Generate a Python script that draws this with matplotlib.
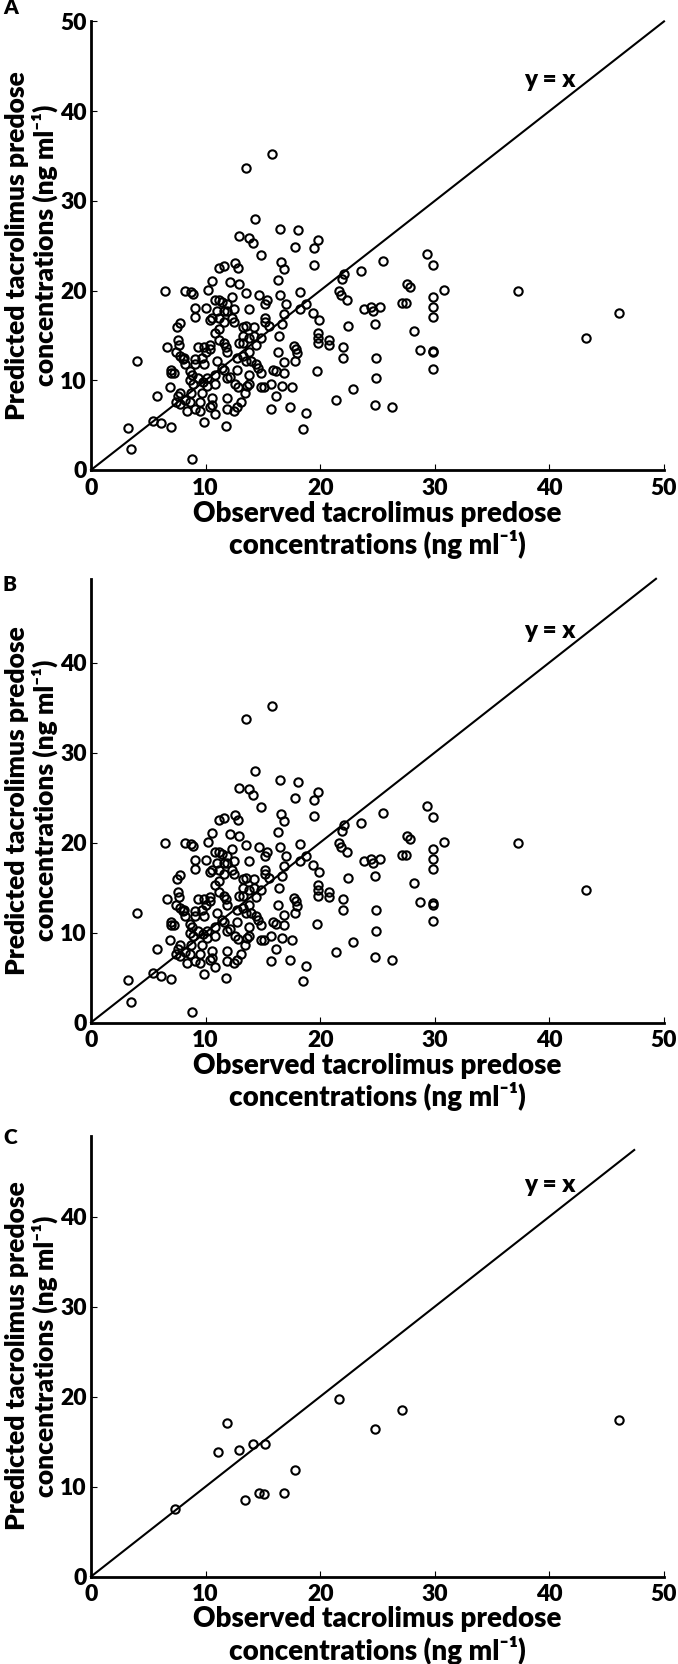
import matplotlib
matplotlib.use('Agg')
import matplotlib.pyplot as plt

plt.rcParams['font.family'] = ['Lato', 'DejaVu Sans']
plt.rcParams['font.weight'] = 'heavy'

# observed vs predicted tacrolimus predose concentrations (ng/ml), panel A
obs_a = [3.2, 3.5, 4.0, 5.4, 5.8, 6.1, 6.5, 6.6, 7.0, 6.9, 7.0, 7.0, 7.5, 7.8, 7.6, 7.7,
         7.4, 7.8, 8.2, 8.7, 8.9, 8.4, 8.8, 8.1, 8.6, 9.1, 9.1, 9.3, 9.1, 9.3, 9.5, 9.9,
         10.0, 10.2, 10.6, 10.8, 11.2, 11.6, 12.1, 12.3, 12.5, 12.9, 13.5, 13.8, 14.1, 14.3,
         14.8, 12.6, 12.8, 12.9, 13.5, 13.8, 14.7, 15.2, 15.4, 15.8, 16.5, 16.6, 16.8, 16.3,
         16.5, 17.0, 16.8, 16.7, 16.4, 16.3, 15.9, 16.1, 16.8, 16.8, 15.7, 16.1, 15.7, 16.7,
         17.5, 17.4, 17.8, 18.1, 18.2, 18.2, 17.7, 17.9, 18.0, 17.8, 18.5, 18.8, 18.8, 19.4,
         19.5, 19.8, 19.5, 19.9, 19.8, 19.8, 19.8, 19.7, 20.8, 20.8, 21.4, 21.6, 21.8, 21.9,
         22.1, 22.3, 22.4, 22.0, 22.0, 22.9, 23.6, 23.8, 24.4, 24.6, 24.8, 24.9, 24.9, 24.8,
         25.2, 25.5, 26.3, 27.1, 27.5, 27.6, 27.8, 28.2, 28.7, 29.3, 29.8, 29.8, 29.8, 29.8,
         29.8, 29.8, 29.8, 30.8, 37.3, 43.2,
         10.8, 10.6, 10.4, 10.6, 11.8, 11.9, 11.9, 12.5, 12.7, 13.1, 13.4, 12.8, 12.6, 13.8,
         13.6, 14.8, 15.1, 12.7, 11.9, 12.1, 11.6, 11.4, 11.0, 10.8, 10.8, 10.1, 9.7, 9.8,
         10.1, 9.9, 9.7, 10.0, 9.9, 10.4, 10.4, 10.8, 11.2, 10.4, 10.6, 11.2, 11.6, 11.0,
         11.6, 11.2, 11.4, 11.9, 11.9, 12.3, 12.5, 11.9, 11.8, 11.6, 11.2, 12.9, 13.3, 13.3,
         13.5, 13.3, 13.8, 14.2, 14.4, 13.8, 13.3, 13.5, 14.0, 14.4, 14.6, 14.8, 13.8, 12.7,
         15.2, 15.2, 15.5, 14.8, 14.2, 8.8, 8.6, 8.2, 7.8, 8.0, 7.4, 7.2, 7.8, 7.6, 8.2, 8.6,
         8.7, 8.9, 9.1, 9.5, 9.1,
         46.1]
pred_a = [4.7, 2.3, 12.2, 5.5, 8.2, 5.2, 19.9, 13.7, 4.8, 9.2, 11.2, 10.8, 15.9, 16.4, 14.5, 13.9,
          7.6, 7.4, 19.9, 19.8, 19.6, 6.6, 1.2, 12.5, 11.0, 18.1, 17.1, 13.7, 11.8, 10.2, 7.6, 5.4,
          18.1, 20.1, 21.1, 18.9, 22.5, 22.7, 20.9, 19.3, 17.9, 26.1, 33.7, 25.9, 25.3, 28.0,
          24.0, 23.1, 22.5, 20.7, 19.7, 17.9, 19.5, 18.5, 18.9, 35.2, 26.9, 23.2, 22.4, 21.2,
          19.5, 18.5, 17.4, 16.3, 14.9, 13.1, 11.2, 11.0, 12.0, 10.8, 9.6, 8.2, 6.8, 9.4,
          9.2, 7.0, 24.9, 26.7, 19.8, 17.9, 13.8, 13.5, 13.0, 12.2, 4.6, 6.3, 18.5, 17.5,
          24.7, 25.6, 22.9, 16.7, 15.3, 14.7, 14.1, 11.0, 14.5, 13.9, 7.8, 19.9, 19.5, 21.3,
          21.9, 18.9, 16.1, 13.7, 12.5, 9.0, 22.2, 17.9, 18.2, 17.7, 16.3, 12.5, 10.2, 7.3,
          18.2, 23.3, 7.0, 18.6, 18.6, 20.7, 20.4, 15.5, 13.4, 24.1, 22.8, 19.3, 18.2, 17.1,
          13.3, 13.1, 11.3, 20.1, 19.9, 14.7,
          6.2, 7.2, 7.0, 8.0, 4.9, 8.0, 6.8, 6.6, 7.0, 7.6, 8.6, 9.3, 9.6, 9.6,
          9.4, 9.2, 9.2, 11.2, 10.2, 10.4, 11.2, 11.4, 12.2, 10.6, 9.6, 9.4, 8.6, 9.8,
          10.2, 11.8, 12.5, 13.1, 13.7, 13.9, 13.5, 15.3, 15.7, 16.7, 16.9, 16.9, 16.5, 17.7,
          17.7, 18.9, 18.7, 17.7, 18.5, 16.9, 16.5, 13.1, 13.7, 14.1, 14.5, 14.1, 14.1, 15.9,
          16.1, 14.9, 14.7, 14.9, 13.9, 13.1, 12.7, 12.2, 12.2, 11.8, 11.4, 10.8, 10.6, 12.5,
          16.9, 16.5, 16.1, 14.7, 15.9, 10.6, 10.0, 11.8, 12.7, 12.4, 13.1, 10.8, 8.6, 8.2, 7.8, 7.6,
          8.6, 9.6, 6.8, 6.6, 12.4,
          17.5]

# panel B: same patients without the 46 ng/ml outlier
obs_b = obs_a[:-1]
pred_b = pred_a[:-1]

# panel C
obs_c = [7.3, 11.1, 11.9, 12.9, 13.4, 14.1, 14.7, 15.1, 15.2, 16.8, 17.8, 21.6, 24.8, 27.1, 46.1]
pred_c = [7.5, 13.9, 17.1, 14.1, 8.5, 14.7, 9.3, 9.2, 14.7, 9.3, 11.9, 19.7, 16.4, 18.5, 17.4]

letters = ['A', 'B', 'C']
y_ticks = [[0, 10, 20, 30, 40, 50], [0, 10, 20, 30, 40], [0, 10, 20, 30, 40]]
y_tops = [50, 49.3, 49]
line_ends = [50, 49.3, 47.4]

W, H = 678, 1664
fig = plt.figure(figsize=(W / 100, H / 100), dpi=100)

# pixel positions of the axes: left, right, y of the origin, y of the axis top
boxes = [(91, 664, 470, 21.4), (91, 664, 1022.5, 578.8), (91, 664, 1576.6, 1135.6)]
letter_tops = [-2, 575, 1128]

panels = [(obs_a, pred_a), (obs_b, pred_b), (obs_c, pred_c)]

for i, (obs, pred) in enumerate(panels):
    l, r, b, t = boxes[i]
    ax = fig.add_axes([l / W, 1 - b / H, (r - l) / W, (b - t) / H])

    ax.plot(obs, pred, 'o', ms=6, mfc='none', mec='black', mew=1.5, clip_on=False)
    ax.plot([0, line_ends[i]], [0, line_ends[i]], '-', color='black', lw=1.5, clip_on=False)

    ax.set_xlim(0, 50)
    ax.set_ylim(0, y_tops[i])
    ax.set_xticks([0, 10, 20, 30, 40, 50])
    ax.set_yticks(y_ticks[i])

    for side in ['top', 'right']:
        ax.spines[side].set_visible(False)
    for side in ['left', 'bottom']:
        ax.spines[side].set_linewidth(2)

    ax.tick_params(direction='in', length=4, width=0.8, labelsize=16.5)
    ax.tick_params(axis='x', pad=5.5)
    ax.tick_params(axis='y', pad=3)
    for lab in ax.get_xticklabels() + ax.get_yticklabels():
        lab.set_fontweight('heavy')

    ax.text(0.5, -0.134, 'Observed tacrolimus predose\nconcentrations (ng ml\u207b\u00b9)',
            transform=ax.transAxes, ha='center', va='center', fontsize=20,
            fontweight='heavy', linespacing=1.15)
    ax.text(-0.104, 0.5, 'Predicted tacrolimus predose\nconcentrations (ng ml\u207b\u00b9)',
            transform=ax.transAxes, ha='center', va='center', rotation=90, fontsize=19,
            fontweight='heavy', linespacing=1.15)

    ax.text(40, 43.5, 'y = x', ha='center', va='center', fontsize=17.5, fontweight='heavy')

    fig.text(3 / W, 1 - letter_tops[i] / H, letters[i], ha='left', va='top', fontsize=15,
             fontweight='heavy')

fig.savefig('out.png', dpi=100)
